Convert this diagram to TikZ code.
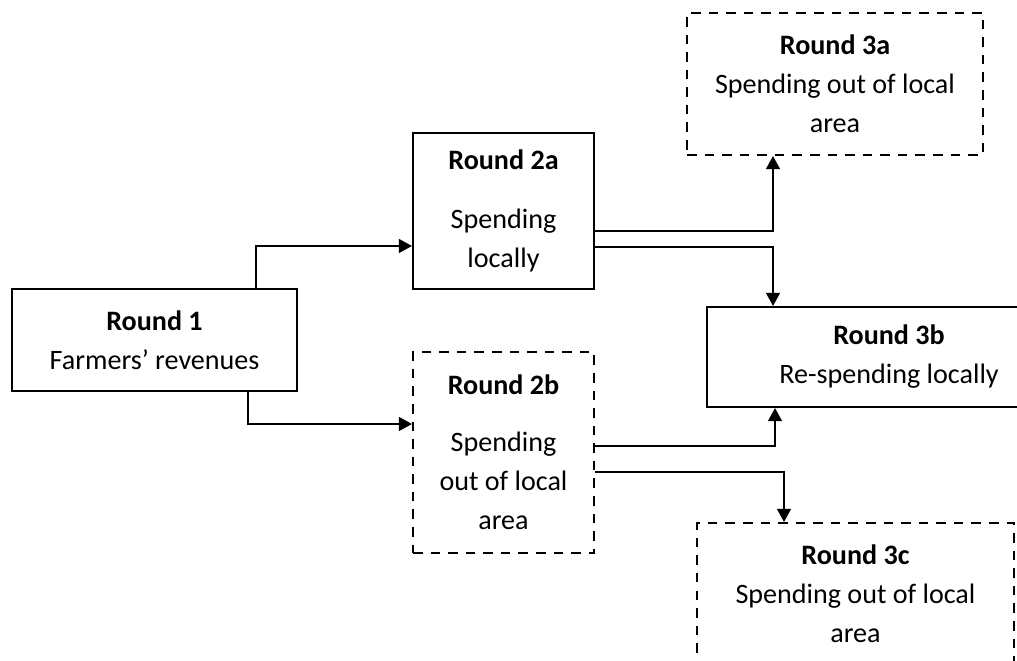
\documentclass[tikz,border=0pt]{standalone}
\usepackage{fontspec}
\setmainfont{Carlito}
\usepackage{tikz}
\usetikzlibrary{arrows.meta}
\tikzset{
Boite/.style={
 draw=black,
 line width=1.2pt,
 inner sep=0pt,
 align=center,
 font=\fontsize{16}{22.2}\selectfont
 },
BoiteTirets/.style={
 Boite,
 dash pattern=on 5.4pt off 4.6pt
 },
Lien/.style={
 draw=black,
 line width=0.7pt,
 -{Triangle[length=7.5pt,width=8pt]}
 }
}

\begin{document}
\begin{tikzpicture}[x=0.02cm,y=-0.02cm]
\useasboundingbox (0,0) rectangle (1017,661);
\node[Boite,minimum width=5.7cm,minimum height=2.04cm] (r1) at (154.5,340) {\textbf{Round 1}\\Farmers’ revenues};
\node[Boite,minimum width=3.62cm,minimum height=3.12cm] (r2a) at (503.5,211) {\textbf{Round 2a}\\[0.4cm]Spending\\locally};
\node[BoiteTirets,minimum width=3.62cm,minimum height=4.02cm] (r2b) at (503.5,452.5) {\textbf{Round 2b}\\[0.36cm]Spending\\out of local\\area};
\node[BoiteTirets,minimum width=5.92cm,minimum height=2.84cm] (r3a) at (835,84) {\textbf{Round 3a}\\Spending out of local\\area};
\node[Boite,minimum width=7.28cm,minimum height=2cm] (r3b) at (889,357) {\textbf{Round 3b}\\Re-spending locally};
\node[BoiteTirets,minimum width=6.34cm,minimum height=2.84cm] (r3c) at (855.5,594) {\textbf{Round 3c}\\Spending out of local\\area};
% points de coude
\coordinate (k1) at (256,246);
\coordinate (k2) at (248,424);
\coordinate (k3) at (773,231);
\coordinate (k4) at (773,247);
\coordinate (k5) at (775,446);
\coordinate (k6) at (784,472);
\draw[Lien] (r1.north -| k1) |- (r2a.west |- k1);
\draw[Lien] (r1.south -| k2) |- (r2b.west |- k2);
\draw[Lien] (r2a.east |- k3) -| (r3a.south -| k3);
\draw[Lien] (r2a.east |- k4) -| (r3b.north -| k4);
\draw[Lien] (r2b.east |- k5) -| (r3b.south -| k5);
\draw[Lien] (r2b.east |- k6) -| (r3c.north -| k6);
\end{tikzpicture}
\end{document}
